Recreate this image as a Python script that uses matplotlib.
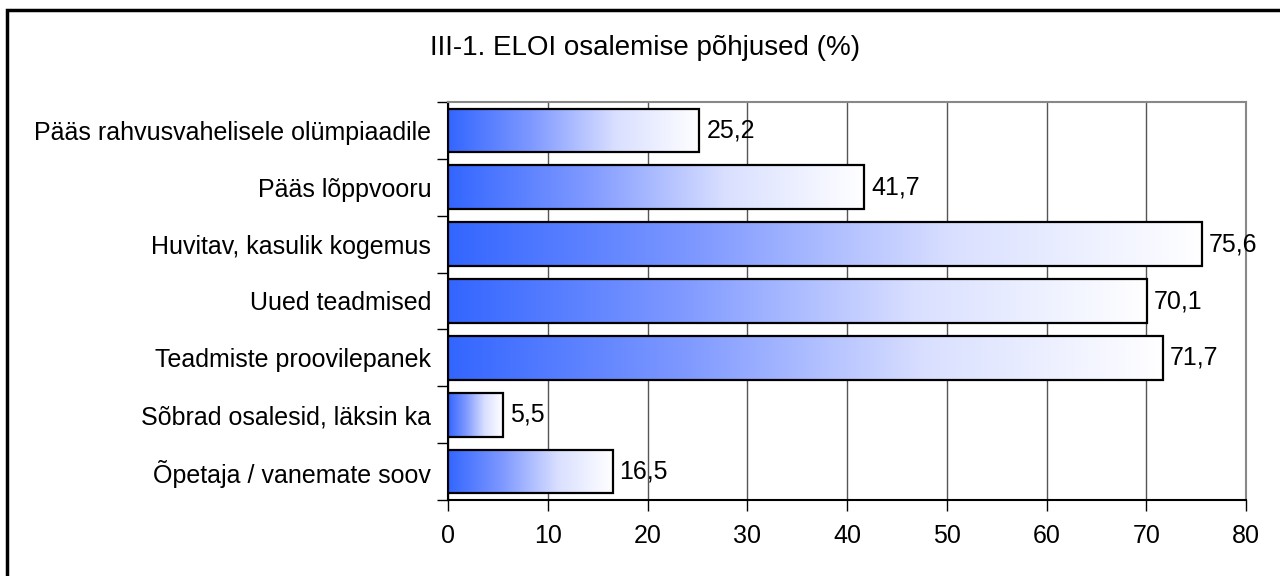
import matplotlib
matplotlib.use("Agg")
import matplotlib.pyplot as plt
import numpy as np
from matplotlib.patches import Rectangle
from matplotlib.colors import LinearSegmentedColormap

categories = ["Pääs rahvusvahelisele olümpiaadile", "Pääs lõppvooru",
              "Huvitav, kasulik kogemus", "Uued teadmised",
              "Teadmiste proovilepanek", "Sõbrad osalesid, läksin ka",
              "Õpetaja / vanemate soov"]
values = [25.2, 41.7, 75.6, 70.1, 71.7, 5.5, 16.5]
value_labels = ["25,2", "41,7", "75,6", "70,1", "71,7", "5,5", "16,5"]
x_ticks = [0, 10, 20, 30, 40, 50, 60, 70, 80]
title = "III-1. ELOI osalemise põhjused (%)"

plt.rcParams['font.family'] = ['Liberation Sans', 'DejaVu Sans']

fig = plt.figure(figsize=(12.8, 5.76), dpi=100)
ax = fig.add_axes([448/1280, 1-500/576, (1246-448)/1280, (500-102)/576])

n = len(categories)
ypos = np.arange(n)[::-1]  # top first
cmap = LinearSegmentedColormap.from_list("g", ["#3366ff", "#7f99ff", "#d9dfff", "#ffffff"])
grad = np.linspace(0, 1, 256).reshape(1, -1)
bh = 0.77
for y, v, lab in zip(ypos, values, value_labels):
    ax.imshow(grad, extent=[0, v, y - bh/2, y + bh/2], aspect='auto', cmap=cmap,
              zorder=3, interpolation='bilinear')
    ax.add_patch(Rectangle((0, y - bh/2), v, bh, fill=False, edgecolor='black', lw=1.6, zorder=4))
    ax.text(v + 0.7, y, lab, va='center', ha='left', fontsize=18, zorder=5)

ax.set_xlim(0, 80)
ax.set_ylim(-0.5, n - 0.5)
ax.set_xticks(x_ticks)
ax.set_xticklabels([str(t) for t in x_ticks], fontsize=18)
ax.tick_params(axis='x', direction='out', length=8, width=1, pad=9)
ax.set_yticks(np.arange(-0.5, n, 1))
ax.set_yticklabels([])
ax.tick_params(axis='y', which='major', direction='out', length=8, width=1)
ax.set_yticks(ypos, minor=True)
ax.set_yticklabels(categories, minor=True, fontsize=18)
ax.tick_params(axis='y', which='minor', length=0, pad=12)
ax.grid(axis='x', color='#555555', lw=1, zorder=1)
ax.set_axisbelow(True)
for s in ['top', 'right']:
    ax.spines[s].set_color('#888888')
    ax.spines[s].set_linewidth(1.5)
for s in ['left', 'bottom']:
    ax.spines[s].set_color('black')
    ax.spines[s].set_linewidth(1.5)

fig.text(645/1280, 1 - 48/576, title, ha='center', va='center', fontsize=20)

fig.add_artist(Rectangle((7/1280, -0.1), 1.2, 1 - 10/576 + 0.1, transform=fig.transFigure,
                         fill=False, edgecolor='black', lw=2.5))

fig.savefig("out.png", dpi=100)
